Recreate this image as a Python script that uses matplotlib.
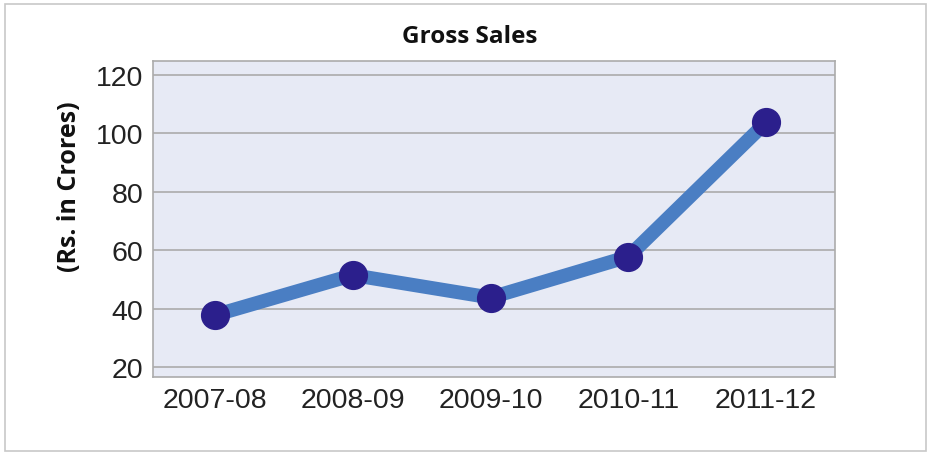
import matplotlib
matplotlib.use("Agg")
import matplotlib.pyplot as plt
from matplotlib.patches import Rectangle

categories = ["2007-08", "2008-09", "2009-10", "2010-11", "2011-12"]
gross_sales = [37.8, 51.5, 43.8, 57.8, 103.8]
yticks = [20, 40, 60, 80, 100, 120]

fig = plt.figure(figsize=(9.27, 4.56), dpi=100)
fig.patch.set_facecolor("white")
fig.patches.append(Rectangle((5/927, 4/456), 921/927, 447/456, transform=fig.transFigure,
                             fill=False, edgecolor="#c8c8c8", linewidth=1.2))

ax = fig.add_axes([153/927, 1 - 378/456, 682/927, 316/456])
ax.set_facecolor("#e7eaf5")
x = list(range(len(categories)))
ax.plot(x, gross_sales, color="#4a7ec3", linewidth=10, solid_capstyle="butt", zorder=3)
ax.plot(x, gross_sales, linestyle="none", marker="o", markersize=20,
        markerfacecolor="#2b1f8c", markeredgecolor="#2b1f8c", zorder=4)

ax.set_xlim(-0.45, 4.5)
ax.set_ylim(16.6, 124.8)
ax.set_yticks(yticks)
ax.set_xticks(x)
ax.set_xticklabels(categories)
ax.yaxis.grid(True, color="#ababab", linewidth=1.2)
ax.set_axisbelow(True)
ax.tick_params(length=0, labelsize=20.5, colors="#222222", pad=7)
for lab in ax.get_xticklabels() + ax.get_yticklabels():
    lab.set_fontfamily("Liberation Sans")
for s in ax.spines.values():
    s.set_color("#ababab")
    s.set_linewidth(1.2)

fig.text(470/927, 1 - 37/456, "Gross Sales", ha="center", va="center",
         fontsize=17.5, fontweight="bold", family="Open Sans", color="#111111")
fig.text(70/927, 1 - 187/456, "(Rs. in Crores)", ha="center", va="center", rotation=90,
         fontsize=18, fontweight="bold", family="Open Sans", color="#111111")

fig.savefig("out.png", dpi=100)
